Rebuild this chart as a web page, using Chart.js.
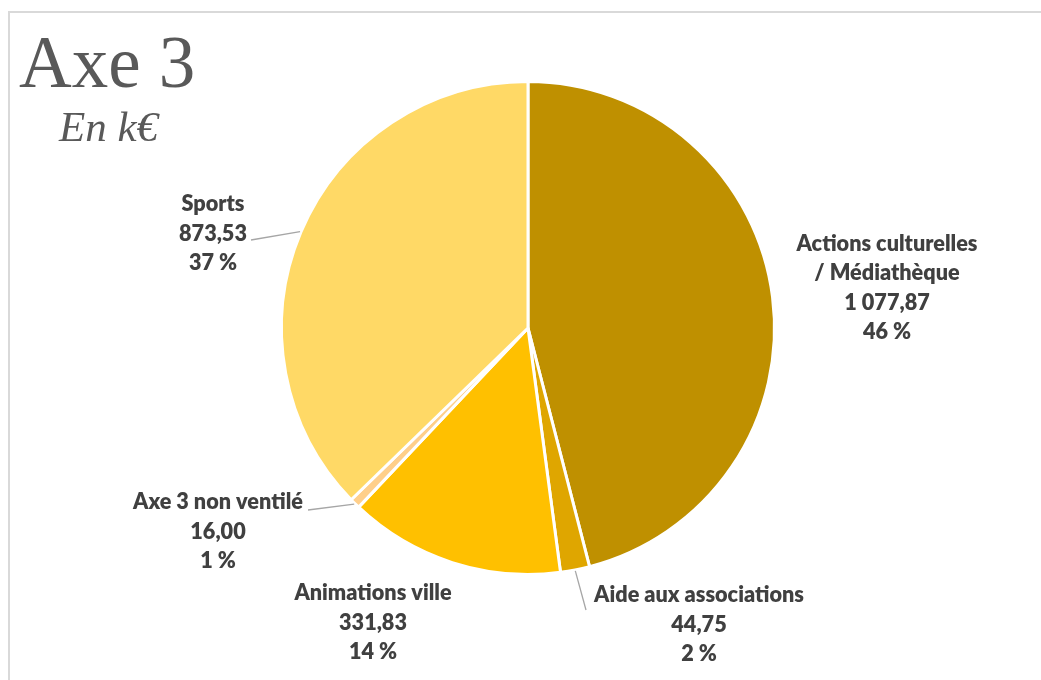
<!DOCTYPE html>
<html>
<head>
<meta charset="utf-8">
<script src="https://cdn.jsdelivr.net/npm/chart.js@4.4.1/dist/chart.umd.min.js"></script>
<style>
html,body{margin:0;padding:0;background:#fff;overflow:hidden;}
#wrap{position:relative;width:1041px;height:680px;overflow:hidden;}
#frame{position:absolute;left:8px;top:11px;width:1200px;height:900px;border:2px solid #d9d9d9;box-sizing:border-box;}
#title{position:absolute;left:19px;top:26px;font-family:"Liberation Serif","Times New Roman",serif;font-size:73px;line-height:1;color:#595959;white-space:nowrap;}
#sub{position:absolute;left:59px;top:105px;font-family:"Liberation Serif","Times New Roman",serif;font-style:italic;font-size:43px;line-height:1;color:#595959;white-space:nowrap;}
canvas{position:absolute;left:0;top:0;}
</style>
</head>
<body>
<div id="wrap">
  <div id="frame"></div>
  <canvas id="c" width="1041" height="680"></canvas>
  <div id="title">Axe 3</div>
  <div id="sub">En k€</div>
</div>
<script>
// ---- data ----
const categories = [
  ['Actions culturelles', '/ Médiathèque'],
  'Aide aux associations',
  'Animations ville',
  'Axe 3 non ventilé',
  'Sports'
];
const values = [1077.87, 44.75, 331.83, 16.00, 873.53];
const sliceColors = ['#BF9000', '#DFA600', '#FFC000', '#FFCF8A', '#FFD966'];

// label block centre offsets from pie centre, and leader line end offsets from label centre
const labelOffsets = [[359, -41], [171, 296], [-155, 294], [-310, 203], [-315, -95]];
const leaderEnds = [null, [-113, -14], null, [90, -21], [38, 7]];

function frNum(v) {
  const parts = v.toFixed(2).split('.');
  const intPart = parts[0].replace(/\B(?=(\d{3})+(?!\d))/g, ' ');
  return intPart + ',' + parts[1];
}

const total = values.reduce((a, b) => a + b, 0);

const labelPlugin = {
  id: 'outLabels',
  afterDatasetsDraw(chart) {
    const ctx = chart.ctx;
    const meta = chart.getDatasetMeta(0);
    ctx.save();
    const weight = '800';
    ctx.font = weight + ' 100px Lato';
    const w100 = ctx.measureText('Actions culturelles').width;
    const fs = 100 * 181 / w100;
    const lh = 29.5;
    ctx.font = weight + ' ' + fs.toFixed(2) + 'px Lato';
    ctx.fillStyle = '#404040';
    ctx.textAlign = 'center';
    ctx.textBaseline = 'alphabetic';
    const capH = fs * 0.72;
    meta.data.forEach((arc, i) => {
      const cx = arc.x, cy = arc.y;
      const R = arc.outerRadius;
      const mid = (arc.startAngle + arc.endAngle) / 2;
      const lx = cx + labelOffsets[i][0];
      const ly = cy + labelOffsets[i][1];
      const name = Array.isArray(categories[i]) ? categories[i] : [categories[i]];
      const lines = name.concat([frNum(values[i]), Math.round(values[i] / total * 100) + ' %']);
      const n = lines.length;
      lines.forEach((t, k) => {
        const yc = ly + (k - (n - 1) / 2) * lh;
        ctx.fillText(t, lx, yc + capH / 2);
      });
      if (leaderEnds[i]) {
        const sx = cx + Math.cos(mid) * (R + 1);
        const sy = cy + Math.sin(mid) * (R + 1);
        ctx.beginPath();
        ctx.strokeStyle = '#a6a6a6';
        ctx.lineWidth = 1.3;
        ctx.moveTo(sx, sy);
        ctx.lineTo(lx + leaderEnds[i][0], ly + leaderEnds[i][1]);
        ctx.stroke();
      }
    });
    ctx.restore();
  }
};

new Chart(document.getElementById('c'), {
  type: 'pie',
  data: {
    labels: categories,
    datasets: [{
      data: values,
      backgroundColor: sliceColors,
      borderColor: '#ffffff',
      borderWidth: 3
    }]
  },
  options: {
    responsive: false,
    devicePixelRatio: 1,
    animation: false,
    layout: { padding: { left: 15, right: 0, top: 80, bottom: 104 } },
    plugins: { legend: { display: false }, tooltip: { enabled: false } }
  },
  plugins: [labelPlugin]
});
</script>
</body>
</html>
